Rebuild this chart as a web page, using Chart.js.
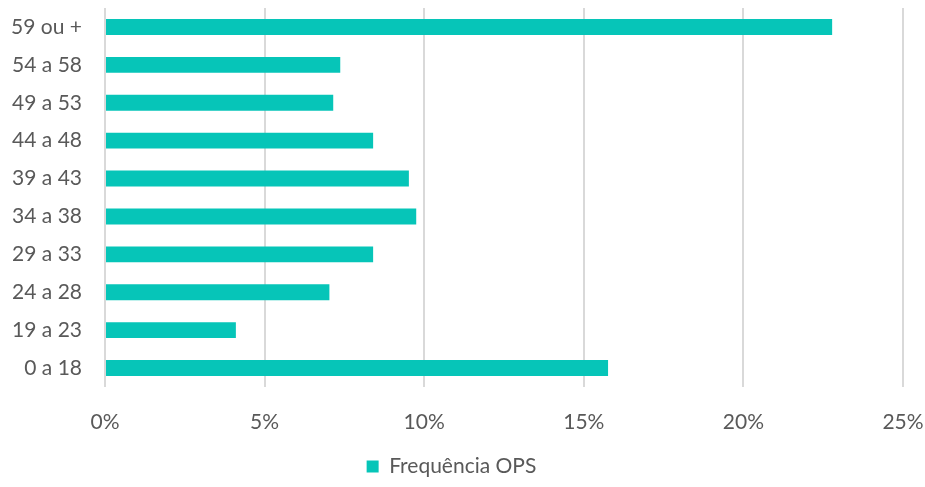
<!DOCTYPE html>
<html>
<head>
<meta charset="utf-8">
<script src="https://cdn.jsdelivr.net/npm/chart.js@4.4.0/dist/chart.umd.min.js"></script>
<style>
  html, body { margin: 0; padding: 0; background: #fff; }
  #wrap { width: 925px; height: 487px; }
</style>
</head>
<body>
<div id="wrap"><canvas id="chart"></canvas></div>
<script>
const categories = ["0 a 18", "19 a 23", "24 a 28", "29 a 33", "34 a 38", "39 a 43", "44 a 48", "49 a 53", "54 a 58", "59 ou +"];
const frequencia = [15.76, 4.10, 7.03, 8.40, 9.75, 9.52, 8.40, 7.15, 7.37, 22.78];
const xTicks = [0, 5, 10, 15, 20, 25];
const seriesName = "Frequência OPS";

const FONT = "Lato, 'Open Sans', sans-serif";
const GREY = "#595959";

// no automatic label overhang padding, layout.padding decides the plot box
function noPad(s) {
  s.paddingTop = 0; s.paddingBottom = 0; s.paddingLeft = 0; s.paddingRight = 0;
}

new Chart(document.getElementById("chart").getContext("2d"), {
  type: "bar",
  data: {
    labels: categories,
    datasets: [{
      label: seriesName,
      data: frequencia,
      backgroundColor: "#06C5B8",
      borderWidth: 0,
      categoryPercentage: 0.42,
      barPercentage: 1
    }]
  },
  options: {
    indexAxis: "y",
    responsive: true,
    maintainAspectRatio: false,
    animation: false,
    layout: { padding: { top: 8, right: 22, left: 0, bottom: 0 } },
    plugins: {
      tooltip: { enabled: false },
      legend: {
        position: "bottom",
        labels: {
          color: GREY,
          font: { family: FONT, size: 21 },
          boxWidth: 12,
          boxHeight: 12,
          padding: 10
        }
      }
    },
    scales: {
      x: {
        min: 0,
        max: 25,
        afterBuildTicks: s => { s.ticks = xTicks.map(v => ({ value: v })); },
        afterFit: s => { s.height = 59; noPad(s); },
        border: { display: false },
        grid: { color: "#D9D9D9", lineWidth: 2, drawTicks: false },
        ticks: {
          color: GREY,
          font: { family: FONT, size: 21 },
          padding: 23,
          callback: v => v + "%"
        }
      },
      y: {
        reverse: true,
        afterFit: s => { s.width = 105; noPad(s); },
        border: { display: false },
        grid: { display: false, drawTicks: false },
        ticks: {
          color: GREY,
          font: { family: FONT, size: 21 },
          padding: 23
        }
      }
    }
  }
});
</script>
</body>
</html>
